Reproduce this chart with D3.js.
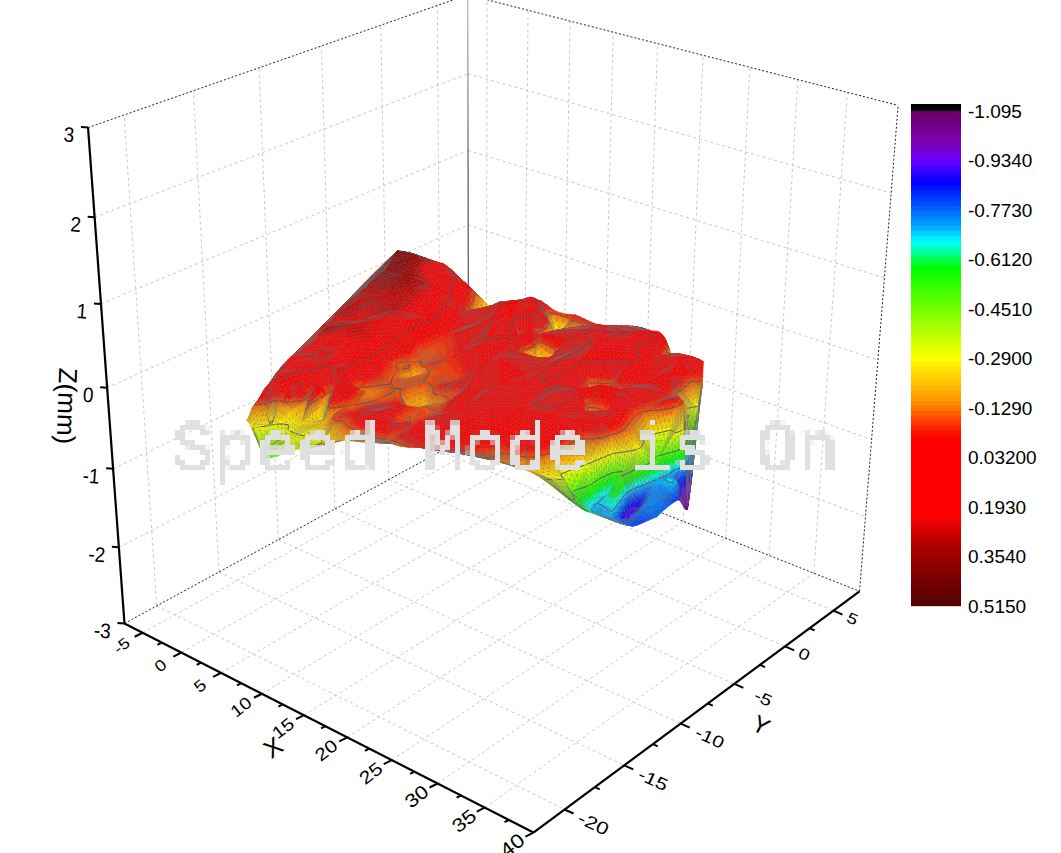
<!DOCTYPE html>
<html><head><meta charset="utf-8"><style>body{margin:0;background:#fff}svg{display:block}text{font-family:"Liberation Sans",Arial,sans-serif;fill:#000}</style>
<script src="https://cdn.jsdelivr.net/npm/d3@7"></script></head><body><svg id="c" width="1061" height="853"></svg>
<script>
// surface points (x, y in mm, z in mm)
const xs=[3.2,3.4,3.9,3.6,1.9,2.0,0.1,0.5,-1.0,-3.2,-1.7,
-1.1,-0.8,2.0,3.2,3.6,-1.5,0.4,1.2,0.7,0.1,1.1,
2.1,2.8,4.0,0.5,2.2,3.7,4.9,5.6,5.7,4.9,2.0,
2.9,3.7,2.0,1.7,2.7,4.9,6.3,6.6,6.7,7.1,7.3,
2.7,4.2,5.4,3.2,7.2,10.0,10.5,12.3,3.4,5.2,6.6,
7.8,5.7,6.7,6.6,7.8,12.4,13.6,15.2,7.2,8.0,8.7,
8.2,9.1,10.7,11.8,10.5,9.1,7.8,4.0,4.6,5.7,6.7,
7.6,8.8,9.9,11.2,10.8,9.8,9.8,10.5,12.2,13.7,16.2,
4.7,6.1,3.9,5.5,6.9,7.6,9.0,15.2,14.6,14.2,15.5,
15.7,13.6,13.6,16.3,16.5,15.0,4.0,4.2,4.4,6.9,5.0,
7.3,9.1,11.9,13.7,13.6,13.8,16.5,17.7,5.1,7.7,10.0,
5.4,5.9,6.6,7.0,9.6,10.7,11.6,12.8,13.7,15.9,17.5,
20.8,23.4,27.5,29.9,30.6,31.4,32.1,33.2,34.0,34.6,35.5,
34.8,34.3,33.0,32.1,30.8,30.6,30.0,28.7,18.2,19.3,20.6,
23.1,25.9,27.8,28.3,22.6,24.7,27.3,28.7,18.9,21.1,23.0,
25.5,27.5,29.7,29.2,29.6,28.7,18.9,20.5,22.1,23.6,24.8,
27.1,24.9,28.9,26.7,28.5,24.9,24.5,24.8,26.6,26.6,25.4,
23.9,27.1,26.7,28.6,28.3,15.8,17.6,19.7,21.3,22.9,24.6,
24.8,27.3,20.1,22.1,23.7,23.4,23.7,24.3,27.7,17.2,17.7,
19.4,20.7,22.1,23.2,10.4,13.6,16.6,25.9,8.3,9.4,10.2,
13.8,12.4,11.8,9.8,10.8,11.8,12.3,12.0,13.5,13.9,13.6,
11.1,13.3,13.1,13.4,14.5,13.3,12.6,17.3,13.9,28.5,29.8,
31.0,29.3,29.8,31.4,32.2,30.1,31.4,31.7,31.7,31.2,31.2,
32.4,33.6,32.2,33.3,33.7,34.0];
const ys=[-18.6,-18.1,-17.6,-16.7,-14.3,-12.2,-9.3,-8.9,-6.3,-1.8,-1.1,
-0.7,0.6,0.8,1.0,1.6,-4.0,-3.7,-2.5,-0.3,-7.4,-5.9,
-4.4,-2.8,-1.8,-10.1,-9.2,-8.2,-6.9,-5.2,-3.1,-0.7,-12.0,
-10.1,-7.0,-2.9,-13.4,-12.0,-11.5,-10.4,-8.5,-6.9,-5.1,-3.4,
-15.6,-14.6,-13.4,-12.4,-10.6,-8.4,-6.7,-5.8,-17.0,-16.5,-15.4,
-14.2,-16.0,-13.7,-12.3,-12.3,-9.8,-8.6,-8.0,-9.2,-8.6,-9.3,
-9.9,-11.0,-9.0,-10.0,-11.6,-9.3,-9.2,-17.8,-16.4,-15.3,-14.1,
-13.1,-12.2,-11.7,-11.8,-13.4,-14.6,-15.9,-16.6,-16.7,-16.7,-16.4,
-17.0,-15.9,-17.9,-16.7,-15.3,-13.8,-12.7,-14.4,-12.4,-10.7,-10.8,
-12.0,-12.3,-11.5,-13.8,-12.5,-11.0,-18.8,-18.7,-17.5,-17.7,-18.0,
-17.1,-16.4,-15.9,-15.1,-13.5,-10.4,-10.7,-9.9,-19.0,-18.2,-17.4,
-19.1,-19.2,-19.4,-18.5,-18.7,-17.0,-17.7,-17.3,-16.3,-16.3,-16.2,
-16.2,-15.0,-13.5,-12.4,-12.1,-12.1,-11.9,-11.0,-10.5,-10.2,-8.9,
-6.4,-5.0,-4.1,-2.9,-1.5,-1.0,-0.1,1.1,-16.0,-15.2,-13.7,
-13.1,-12.8,-11.8,-10.1,-14.4,-13.6,-13.1,-12.1,-12.4,-11.6,-10.6,
-10.0,-9.0,-8.2,-5.1,-2.8,-0.2,-9.1,-8.2,-7.4,-6.4,-6.8,
-5.7,-5.2,-8.5,-8.4,-6.5,-6.5,-4.6,-4.5,-6.3,-7.1,-6.7,
-4.5,-5.2,-2.6,-2.0,0.2,-6.7,-6.0,-4.9,-4.0,-3.1,-2.2,
-0.5,0.1,-1.2,-0.1,0.6,2.4,2.5,0.8,1.2,-1.9,-0.5,
0.2,0.8,1.7,2.1,1.7,1.8,1.6,1.3,-0.8,-0.1,0.5,
1.6,1.5,1.6,-3.1,-2.0,-1.0,-0.2,-4.8,-4.1,-2.6,-1.5,
1.6,-3.1,-2.0,-3.0,-2.6,-0.8,0.8,-3.5,-4.9,-9.8,-6.5,
-2.8,-12.7,-10.3,-7.2,-3.8,-11.7,-8.7,-5.6,-2.6,-10.9,-8.8,
-6.2,-5.6,-8.3,-5.1,-7.9,-6.8];
const zs=[-.26,-.1,.04,.11,.13,.2,.27,.29,.3,.42,.36,
.2,.18,-.02,-.15,-.29,.38,.36,.25,.15,.285,.285,
.285,.2,.05,.22,.24,.23,.18,.12,.05,-.15,.27,
.27,.27,.27,.13,.15,.2,.18,.05,-.06,-.05,-.03,
.11,.12,.12,.09,-.02,-.07,-.05,.08,0,.06,.07,
.09,.105,.105,.105,-.03,-.08,-.07,.05,-.095,-.095,-.095,
-.095,-.095,-.095,-.095,-.095,-.2,-.11,-.095,-.095,-.095,-.095,
-.095,-.095,-.095,-.095,-.095,-.095,-.095,-.095,-.095,-.095,-.095,
-.13,-.15,-.18,-.2,-.2,-.17,-.13,-.095,-.095,-.095,-.095,
-.095,-.2,-.18,-.07,-.07,-.12,-.27,-.295,-.295,-.295,-.31,
-.25,-.2,-.03,.02,-.03,-.05,0,.05,-.32,-.33,-.31,
-.38,-.45,-.5,-.36,-.32,-.2,-.24,-.18,.02,.05,-.03,
-.04,-.06,-.2,-.3,-.47,-.58,-.62,-.72,-.78,-.82,-.78,
-.82,-1.08,-.85,-.7,-.5,-.3,-.1,.02,.04,.05,.05,
.05,.03,-.03,-.08,-.05,-.08,-.1,-.2,.05,.08,.08,
.08,.03,-.03,-.08,-.06,-.05,.1,.1,.1,.05,.05,
.06,.05,.03,.05,0,-.095,-.095,-.095,-.095,-.095,-.095,
-.25,.08,-.03,.08,.03,.1,-.03,.1,.12,.12,.12,
.03,.08,.12,.12,.1,-.08,-.2,-.05,.02,.05,.1,
.1,.1,.1,.05,-.02,-.03,-.03,-.01,.1,.13,.15,
-.1,-.25,-.32,.1,.13,.13,.05,.12,.13,.1,-.05,
-.2,-.1,-.25,-.27,-.28,-.27,-.29,-.05,.05,-.1,-.1,
-.1,-.3,-.3,-.3,-.3,-.5,-.5,-.5,-.5,-.7,-.7,
-.7,-.7,-.9,-.84,-.74,-.76];

const xLim=[-7.4,40], yLim=[-22.5,7.8], zLim=[-3,3];
const xTicks=d3.range(-5,41,5), yTicks=d3.range(-20,6,5), zTicks=d3.range(-3,4);
const xMinor=d3.range(-5,41,2.5), yMinor=d3.range(-20,6,2.5);
const contourLevels=[-.895,-.695,-.495,-.295,-.095,.105,.27];
const legendTicks=["-1.095","-0.9340","-0.7730","-0.6120","-0.4510","-0.2900","-0.1290","0.03200","0.1930","0.3540","0.5150"];
const colorStops=[-1.095,-1.0,-.934,-.86,-.724,-.669,-.627,-.584,-.29,-.155,-.09,-.035,.22,.317,.515];
const colorValues=["#640064","#8000aa","#6a00ff","#0000ff","#00a0ff","#00ffff","#00ff80","#00ff00","#ffff00","#ff9900","#ff4400","#ff0000","#ff0000","#b00000","#500000"];

const sx=d3.scaleLinear(xLim,[0,1]),sy=d3.scaleLinear(yLim,[0,1]),sz=d3.scaleLinear(zLim,[0,1]);

// camera: least squares fit of the box corners to where they sit on the page
const corners=[[0,0,0,125,625],[1,0,0,533,831],[1,1,0,860,593],[0,1,0,468,434],[0,0,1,88,126],[1,1,1,898,105],[0,1,1,468,-4],[0,0,.5,107,389]];
function fit(){
    const A=[],b=[];
    corners.forEach(([u,v,w,X,Y])=>{
        A.push([u,v,w,1,0,0,0,0,-X*u,-X*v,-X*w]);b.push(X);
        A.push([0,0,0,0,u,v,w,1,-Y*u,-Y*v,-Y*w]);b.push(Y);
    });
    const n=11,N=d3.range(n).map(i=>d3.range(n+1).map(j=>j<n?d3.sum(A,r=>r[i]*r[j]):d3.sum(A,(r,k)=>r[i]*b[k])));
    for(let i=0;i<n;i++){
        let m=i;
        for(let k=i+1;k<n;k++)if(Math.abs(N[k][i])>Math.abs(N[m][i]))m=k;
        [N[i],N[m]]=[N[m],N[i]];
        for(let k=0;k<n;k++)if(k!==i){const f=N[k][i]/N[i][i];for(let j=i;j<=n;j++)N[k][j]-=f*N[i][j]}
    }
    return N.map((r,i)=>r[n]/r[i]);
}
const P=fit();
function proj(x,y,z){
    const u=sx(x),v=sy(y),w=sz(z),d=P[8]*u+P[9]*v+P[10]*w+1;
    return [(P[0]*u+P[1]*v+P[2]*w+P[3])/d,(P[4]*u+P[5]*v+P[6]*w+P[7])/d];
}

const svg=d3.select("#c");
const line=(a,b,style)=>svg.append("line").attr("x1",a[0]).attr("y1",a[1]).attr("x2",b[0]).attr("y2",b[1]).call(style);
const grid=s=>s.attr("stroke","#c8c8c8").attr("stroke-dasharray","3,3").attr("stroke-width",1);
const edge=s=>s.attr("stroke","#222").attr("stroke-dasharray","2,2").attr("stroke-width",1);
const axis=w=>s=>s.attr("stroke","#000").attr("stroke-width",w);
const [x0,x1]=xLim,[y0,y1]=yLim,[z0,z1]=zLim;

xTicks.slice(0,-1).forEach(t=>{line(proj(t,y0,z0),proj(t,y1,z0),grid);line(proj(t,y1,z0),proj(t,y1,z1),grid)});
yTicks.forEach(t=>{line(proj(x0,t,z0),proj(x1,t,z0),grid);line(proj(x0,t,z0),proj(x0,t,z1),grid)});
zTicks.slice(1,-1).forEach(t=>{line(proj(x0,y0,t),proj(x0,y1,t),grid);line(proj(x0,y1,t),proj(x1,y1,t),grid)});
line(proj(x0,y0,z0),proj(x0,y1,z0),edge);
line(proj(x0,y1,z0),proj(x1,y1,z0),edge);
line(proj(x0,y0,z1),proj(x0,y1,z1),edge);
line(proj(x0,y1,z1),proj(x1,y1,z1),edge);
line(proj(x1,y1,z0),proj(x1,y1,z1),edge);

const defs=svg.append("defs");
const gr=defs.append("linearGradient").attr("id","bk").attr("gradientUnits","userSpaceOnUse").attr("x1",0).attr("y1",0).attr("x2",0).attr("y2",434);
gr.append("stop").attr("offset",0).attr("stop-color","#aaa");
gr.append("stop").attr("offset",.4).attr("stop-color","#333");
line(proj(x0,y1,z0),proj(x0,y1,z1),s=>s.attr("stroke","url(#bk)").attr("stroke-width",1));

const color0=d3.scaleLinear(colorStops,colorValues).clamp(true);
const bands=99,bandOf=d3.scaleQuantize([-1.095,.515],d3.range(bands));
const bandColor=d3.range(bands).map(i=>color0(-1.095+(i+.5)*1.61/bands));
const col=z=>bandColor[bandOf(z)];

const del=d3.Delaunay.from(xs.map((x,i)=>[x,ys[i]]));
// vertex slopes from the neighbours, so the triangles can be drawn as curved patches
const grad=xs.map((x,i)=>{
    let a=0,b=0,c=0,d=0,e=0;
    for(const j of del.neighbors(i)){
        const dx=xs[j]-x,dy=ys[j]-ys[i],dz=zs[j]-zs[i],w=1/(dx*dx+dy*dy);
        a+=w*dx*dx;b+=w*dx*dy;c+=w*dy*dy;d+=w*dx*dz;e+=w*dy*dz;
    }
    const D=a*c-b*b;
    return D>1e-9?[.8*(c*d-b*e)/D,.8*(a*e-b*d)/D]:[0,0];
});
const sides=[[0,1],[1,2],[2,0]];
const tris=[];
for(let i=0;i<del.triangles.length;i+=3){
    const t=[del.triangles[i],del.triangles[i+1],del.triangles[i+2]];
    const m=d3.max(sides,([a,b])=>Math.hypot(xs[t[a]]-xs[t[b]],ys[t[a]]-ys[t[b]]));
    if(m<9)tris.push(t);
}
// back to front
tris.sort((a,b)=>d3.sum(a,i=>sx(xs[i])-sy(ys[i]))-d3.sum(b,i=>sx(xs[i])-sy(ys[i])));
const fmt=p=>p[0].toFixed(1)+","+p[1].toFixed(1);
const surf=svg.append("g");
tris.forEach(t=>{
    const V=t.map(i=>[xs[i],ys[i],zs[i]]),S=V.map(v=>proj(...v)),G=t.map(i=>grad[i]);
    const L=d3.max(sides,([a,b])=>Math.hypot(S[a][0]-S[b][0],S[a][1]-S[b][1])),n=Math.max(1,Math.ceil(L/6));
    const ed=(a,b)=>V[a][2]+(G[a][0]*(V[b][0]-V[a][0])+G[a][1]*(V[b][1]-V[a][1]))/3;
    const b210=ed(0,1),b120=ed(1,0),b201=ed(0,2),b102=ed(2,0),b021=ed(1,2),b012=ed(2,1);
    const b111=(b210+b120+b201+b102+b021+b012)/4-(V[0][2]+V[1][2]+V[2][2])/6;
    const at=(i,j)=>{
        const a=i/n,b=j/n,c=1-a-b,x=a*V[0][0]+b*V[1][0]+c*V[2][0],y=a*V[0][1]+b*V[1][1]+c*V[2][1];
        let z=a*a*a*V[0][2]+b*b*b*V[1][2]+c*c*c*V[2][2]+3*a*a*b*b210+3*a*a*c*b201+3*b*b*a*b120+3*b*b*c*b021+3*c*c*a*b102+3*c*c*b*b012+6*a*b*c*b111;
        z=Math.max(-1.095,Math.min(.515,z));
        const s=proj(x,y,z);
        return [s[0],s[1],z];
    };
    const g=surf.append("g");
    let mesh="",cd="";
    const tri=(p,q,r)=>{
        const c=col((p[2]+q[2]+r[2])/3),d=`M${fmt(p)}L${fmt(q)}L${fmt(r)}Z`;
        g.append("path").attr("d",d).attr("fill",c).attr("stroke",c).attr("stroke-width",.6);
        mesh+=d;
        contourLevels.forEach(l=>{
            const h=[];
            [[p,q],[q,r],[r,p]].forEach(([a,b])=>{
                if((a[2]<l)!==(b[2]<l)){const f=(l-a[2])/(b[2]-a[2]);h.push([a[0]+f*(b[0]-a[0]),a[1]+f*(b[1]-a[1])])}
            });
            if(h.length===2)cd+=`M${fmt(h[0])}L${fmt(h[1])}`;
        });
    };
    for(let i=0;i<n;i++)for(let j=0;j<n-i;j++){
        tri(at(i,j),at(i+1,j),at(i,j+1));
        if(i+j<n-1)tri(at(i+1,j),at(i+1,j+1),at(i,j+1));
    }
    g.append("path").attr("d",mesh).attr("fill","none").attr("stroke","#707070").attr("stroke-opacity",.4).attr("stroke-width",.4);
    if(cd)g.append("path").attr("d",cd).attr("fill","none").attr("stroke","#555").attr("stroke-width",1);
});

// axes
line(proj(x0,y0,z0),proj(x0,y0,z1),axis(2.2));
line(proj(x0,y0,z0),proj(x1,y0,z0),axis(2.2));
line(proj(x1,y0,z0),proj(x1,y1,z0),axis(2.2));
const label=(p,dx,dy,rot,size,t,sa=1,sb=1)=>svg.append("text")
    .attr("transform",`translate(${p[0]+dx},${p[1]+dy}) rotate(${rot}) scale(${sa},${sb})`)
    .attr("text-anchor","middle").attr("dominant-baseline","central").attr("font-size",size).text(t);
const fx=d3.scaleLinear([-5,40],[18,23]),fy=d3.scaleLinear([-20,5],[22,19]);
xMinor.forEach(t=>{
    const p=proj(t,y0,z0),maj=xTicks.includes(t),k=maj?1:.55;
    line(p,[p[0]-8*k,p[1]+4*k],axis(2));
    if(maj)label(p,-21,13,-38,fx(t),t,1,.85);
});
yMinor.forEach(t=>{
    const p=proj(x1,t,z0),maj=yTicks.includes(t),k=maj?1:.55;
    line(p,[p[0]+9*k,p[1]+4*k],axis(2));
    if(maj)label(p,t<0?29:19,t<0?14:8,25,fy(t),t,1,.8);
});
zTicks.forEach(t=>{
    const p=proj(x0,y0,t);
    line(p,[p[0]-7,p[1]-.5],axis(2));
    label(p,t<0?-22:-19,7,4,21,t,.9,1);
});
label([273,747],0,0,-35,25,"X");
label([761,725],0,0,28,24,"Y");
label([67,406],0,0,92,26,"Z(mm)");

// legend
const ly=d3.scaleLinear([-1.095,.515],[111,606]);
svg.append("rect").attr("x",911).attr("y",104).attr("width",50).attr("height",7).attr("fill","#000");
d3.range(bands).forEach(i=>{
    const a=-1.095+i*1.61/bands,b=a+1.61/bands;
    svg.append("rect").attr("x",911).attr("y",ly(a)-.2).attr("width",50).attr("height",ly(b)-ly(a)+.4).attr("fill",bandColor[i]);
});
legendTicks.forEach((t,i)=>svg.append("text").attr("x",968).attr("y",ly(+t)).attr("dominant-baseline","central").attr("font-size",19).text(t));

// blocky watermark, sampled on a 5px lattice
const fl=defs.append("filter").attr("id","px").attr("filterUnits","userSpaceOnUse").attr("x",160).attr("y",400).attr("width",700).attr("height",100);
fl.append("feFlood").attr("x",172).attr("y",412).attr("width",1).attr("height",1).attr("flood-color","#000");
fl.append("feComposite").attr("x",170).attr("y",410).attr("width",5).attr("height",5);
fl.append("feTile").attr("result","a");
fl.append("feComposite").attr("in","SourceGraphic").attr("in2","a").attr("operator","in");
fl.append("feMorphology").attr("operator","dilate").attr("radius",2);
svg.append("text").attr("x",172).attr("y",470).attr("font-size",69.5).attr("filter","url(#px)").attr("xml:space","preserve")
    .style("font-family","'Liberation Mono',monospace").style("fill","#e0e0e0").style("stroke","#e0e0e0").style("stroke-width",1.6).text("Speed Mode is On");
</script></body></html>
